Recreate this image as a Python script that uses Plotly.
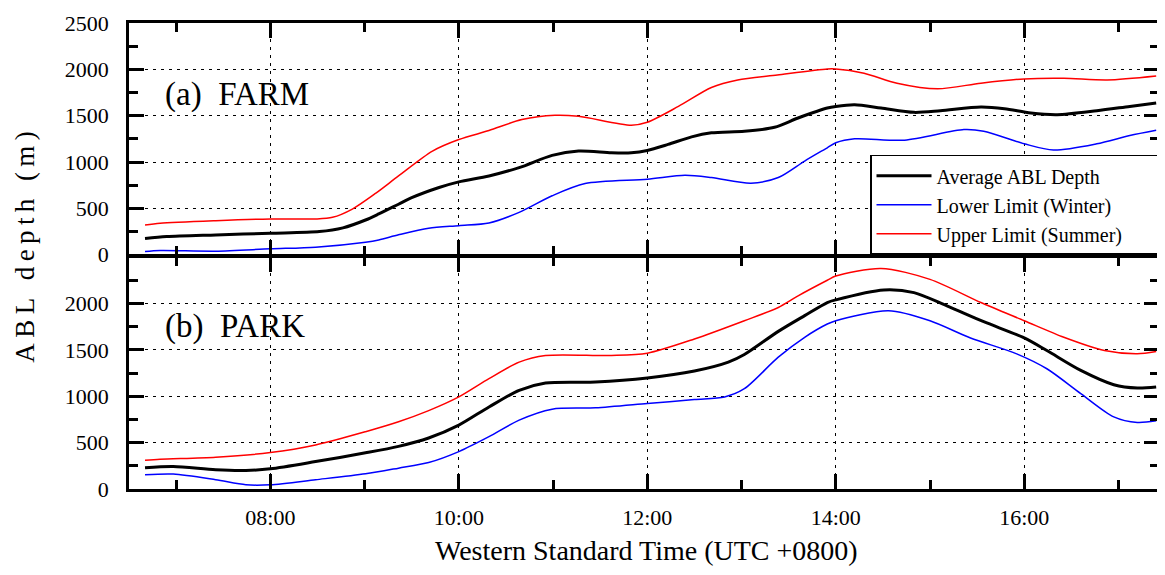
import pandas as pd
import plotly.graph_objects as go
from plotly.subplots import make_subplots

# ---- data (time in decimal hours of local time, depth in m) ----
farm_avg_t = [6.67, 6.9, 7.42, 8.0, 8.52, 8.77, 9.01, 9.15, 9.36, 9.5, 9.79, 10.0, 10.32, 10.64, 10.99, 11.27, 11.62, 11.83, 12.0, 12.22, 12.47, 12.68, 13.03, 13.35, 13.6, 13.91, 14.0, 14.2, 14.48, 14.83, 15.11, 15.54, 15.79, 16.07, 16.35, 16.77, 17.12, 17.4]
farm_avg = [175, 196, 214, 232, 250, 290, 375, 440, 545, 615, 725, 786, 850, 940, 1072, 1118, 1100, 1100, 1125, 1190, 1272, 1315, 1332, 1375, 1475, 1583, 1600, 1618, 1583, 1536, 1554, 1594, 1576, 1529, 1511, 1554, 1600, 1636]

farm_up_t = [6.67, 6.83, 7.42, 8.0, 8.48, 8.66, 8.87, 9.12, 9.36, 9.72, 10.0, 10.32, 10.67, 11.02, 11.27, 11.83, 12.0, 12.33, 12.68, 12.96, 13.38, 13.91, 14.0, 14.3, 14.65, 15.08, 15.54, 16.0, 16.42, 16.88, 17.4]
farm_up = [320, 340, 368, 386, 386, 404, 493, 665, 850, 1118, 1243, 1340, 1458, 1504, 1493, 1397, 1429, 1600, 1804, 1886, 1940, 2004, 2004, 1958, 1851, 1790, 1851, 1897, 1904, 1886, 1929]

farm_lo_t = [6.67, 6.83, 7.42, 8.0, 8.48, 9.01, 9.15, 9.36, 9.68, 10.0, 10.32, 10.64, 10.99, 11.34, 12.0, 12.4, 12.68, 13.1, 13.39, 13.67, 13.91, 14.0, 14.2, 14.73, 15.36, 15.57, 16.0, 16.31, 16.77, 17.12, 17.4]
farm_lo = [35, 46, 39, 64, 82, 136, 160, 215, 286, 314, 343, 457, 636, 768, 815, 857, 833, 772, 833, 1011, 1154, 1208, 1251, 1236, 1350, 1332, 1197, 1129, 1197, 1286, 1343]

park_avg_t = [6.67, 6.97, 7.42, 7.74, 8.0, 8.48, 9.01, 9.36, 9.68, 10.0, 10.32, 10.64, 10.92, 11.45, 12.0, 12.5, 12.86, 13.03, 13.39, 13.67, 13.91, 14.0, 14.51, 14.83, 15.18, 15.57, 16.0, 16.24, 16.6, 16.95, 17.2, 17.4]
park_avg = [230, 242, 207, 200, 218, 296, 390, 460, 550, 689, 885, 1064, 1143, 1154, 1197, 1272, 1368, 1450, 1700, 1870, 2011, 2040, 2147, 2118, 1975, 1804, 1629, 1493, 1279, 1125, 1089, 1100]

park_up_t = [6.67, 6.83, 7.42, 8.0, 8.48, 9.01, 9.36, 9.68, 10.0, 10.32, 10.64, 10.92, 11.62, 12.0, 12.5, 13.03, 13.39, 13.6, 13.91, 14.0, 14.48, 15.0, 15.54, 16.0, 16.42, 16.85, 17.2, 17.4]
park_up = [310, 321, 343, 393, 475, 618, 725, 845, 993, 1190, 1368, 1440, 1440, 1465, 1618, 1815, 1958, 2083, 2251, 2297, 2379, 2261, 2011, 1815, 1636, 1493, 1458, 1482]

park_lo_t = [6.67, 6.97, 7.42, 7.74, 8.0, 8.48, 9.01, 9.36, 9.68, 10.0, 10.32, 10.64, 10.99, 11.45, 12.0, 12.5, 12.82, 13.03, 13.39, 13.67, 13.91, 14.0, 14.56, 15.0, 15.43, 15.92, 16.24, 16.6, 16.95, 17.2, 17.4]
park_lo = [153, 161, 100, 46, 46, 100, 164, 225, 285, 403, 564, 743, 861, 875, 922, 965, 993, 1082, 1422, 1636, 1779, 1815, 1922, 1815, 1629, 1458, 1297, 1029, 778, 718, 735]

names = ["Average ABL Depth", "Lower Limit (Winter)", "Upper Limit (Summer)"]
panel_labels = ["(a)\u00a0\u00a0FARM", "(b)\u00a0\u00a0PARK"]
y_title = "ABL depth (m)"
x_title = "Western Standard Time (UTC +0800)"
x_range_hours = [6.5, 17.43]

FONT = "Liberation Serif"
PAD = "\u00a0" * 6  # right padding inside the legend box
BASE = pd.Timestamp("2000-01-01")
HOUR_MS = 3600000
LW = 2.5
GAP = (LW / 2) / 467.0  # lets the two panels share one axis line


def to_time(hours):
    return [BASE + pd.Timedelta(hours=h) for h in hours]


fig = make_subplots(rows=2, cols=1, shared_xaxes=True, vertical_spacing=0)

series = [
    (1, farm_avg_t, farm_avg, "black", 3, names[0], True),
    (1, farm_lo_t, farm_lo, "#0000ff", 1.5, names[1], True),
    (1, farm_up_t, farm_up, "#ff0000", 1.5, names[2], True),
    (2, park_avg_t, park_avg, "black", 3, names[0], False),
    (2, park_lo_t, park_lo, "#0000ff", 1.5, names[1], False),
    (2, park_up_t, park_up, "#ff0000", 1.5, names[2], False),
]
for row, t, v, col, w, nm, show in series:
    fig.add_trace(go.Scatter(x=to_time(t), y=v, mode="lines", name=nm + PAD, showlegend=show,
                             line=dict(color=col, width=w, shape="spline", smoothing=0.8)),
                  row=row, col=1)

xcommon = dict(type="date", range=to_time(x_range_hours), tickformat="%H:%M",
               tickmode="linear", tick0=BASE, dtick=2 * HOUR_MS,
               ticks="inside", ticklen=15, tickwidth=LW, tickcolor="black",
               showline=True, linewidth=LW, linecolor="black", mirror="allticks",
               showgrid=True, gridcolor="black", gridwidth=1, griddash="3px,5px",
               zeroline=False,
               minor=dict(tick0=BASE, dtick=HOUR_MS, ticks="inside", ticklen=9,
                          tickwidth=LW, tickcolor="black", showgrid=False),
               tickfont=dict(family=FONT, size=22, color="black"), ticklabelstandoff=7)

fig.update_xaxes(**xcommon)
fig.update_xaxes(showticklabels=False, row=1, col=1)

ycommon = dict(ticks="inside", ticklen=15, tickwidth=LW, tickcolor="black",
               showline=True, linewidth=LW, linecolor="black", mirror="allticks",
               showgrid=True, gridcolor="black", gridwidth=1, griddash="3px,5px",
               zeroline=False, tickmode="linear", tick0=0, dtick=500,
               minor=dict(tick0=0, dtick=250, ticks="inside",
                          ticklen=9, tickwidth=LW, tickcolor="black", showgrid=False),
               tickfont=dict(family=FONT, size=22, color="black"), ticklabelstandoff=13)
fig.update_yaxes(**ycommon)
fig.update_yaxes(range=[0, 2500], domain=[0.5 + GAP, 1], row=1, col=1)
fig.update_yaxes(range=[0, 2499.5], domain=[0, 0.5 - GAP], row=2, col=1)

spaced_y = "\u2009".join(list(y_title))
fig.add_annotation(text=spaced_y, xref="paper", yref="paper", x=-0.101, y=0.52,
                   xanchor="center", yanchor="middle", textangle=-90, showarrow=False,
                   font=dict(family=FONT, size=27, color="black"))
fig.add_annotation(text=x_title, xref="paper", yref="paper", x=0.5024, y=-0.132,
                   xanchor="center", yanchor="middle", showarrow=False,
                   font=dict(family=FONT, size=28, color="black"))
fig.add_annotation(text=panel_labels[0], xref="paper", yref="paper", x=0.0326, y=0.8465,
                   xanchor="left", yanchor="middle", showarrow=False,
                   font=dict(family=FONT, size=33, color="black"))
fig.add_annotation(text=panel_labels[1], xref="paper", yref="paper", x=0.0326, y=0.3497,
                   xanchor="left", yanchor="middle", showarrow=False,
                   font=dict(family=FONT, size=33, color="black"))

# the page body adds an 8px offset; size the figure so the plot area lands where the reference has it
fig.update_layout(
    width=1157, height=567,
    margin=dict(l=121, r=3, t=14, b=86),
    paper_bgcolor="white", plot_bgcolor="white",
    font=dict(family=FONT, color="black"),
    showlegend=True,
    legend=dict(x=1, y=0.5 + GAP, xanchor="right", yanchor="bottom",
                bgcolor="white", bordercolor="black", borderwidth=1.5,
                font=dict(family=FONT, size=20, color="black"),
                itemwidth=55, tracegroupgap=0),
)

fig.write_html("out.html")
